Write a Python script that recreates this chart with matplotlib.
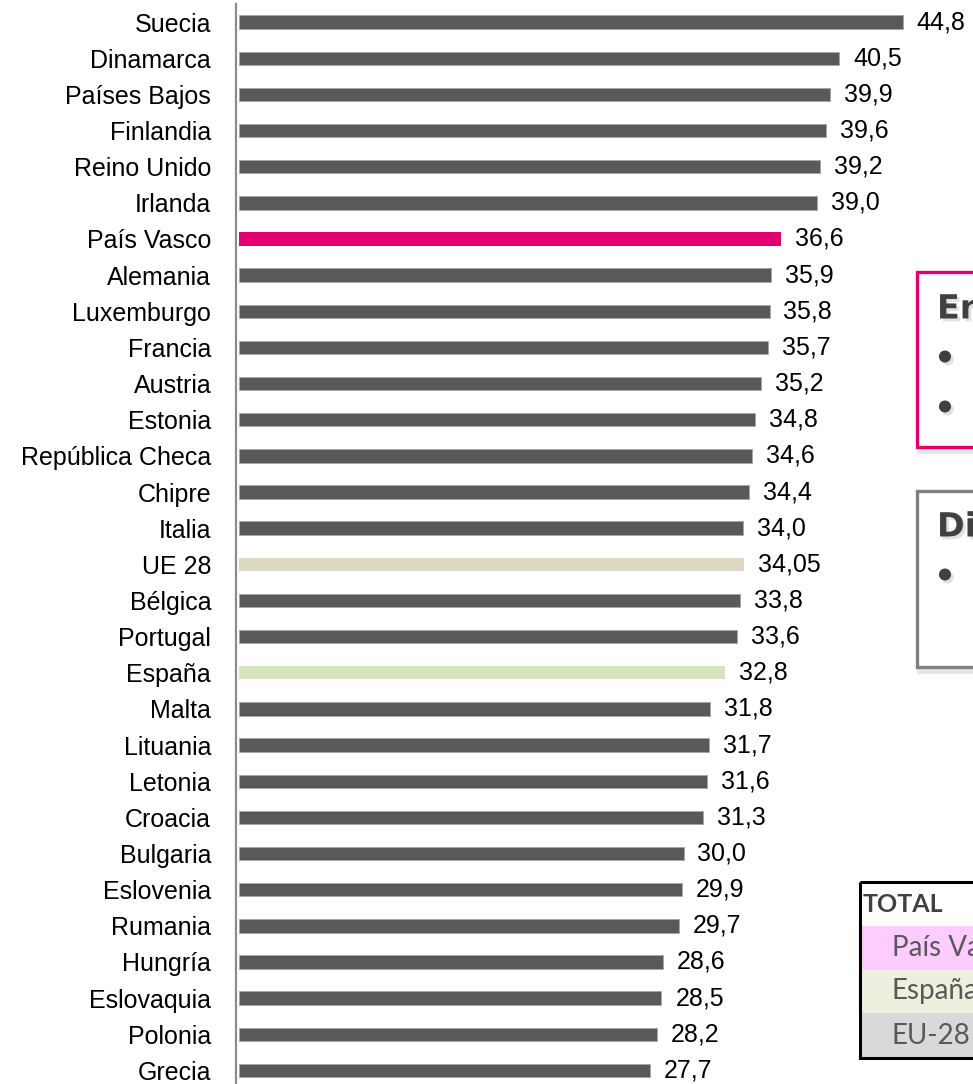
import numpy as np
import matplotlib
matplotlib.use('Agg')
import matplotlib.pyplot as plt
from matplotlib.patches import Rectangle
import matplotlib.patheffects as pe

plt.rcParams['font.family'] = ['Liberation Sans', 'DejaVu Sans']

# datos
paises = ['Suecia', 'Dinamarca', 'Países Bajos', 'Finlandia', 'Reino Unido', 'Irlanda',
          'País Vasco', 'Alemania', 'Luxemburgo', 'Francia', 'Austria', 'Estonia',
          'República Checa', 'Chipre', 'Italia', 'UE 28', 'Bélgica', 'Portugal',
          'España', 'Malta', 'Lituania', 'Letonia', 'Croacia', 'Bulgaria',
          'Eslovenia', 'Rumania', 'Hungría', 'Eslovaquia', 'Polonia', 'Grecia']
valores = [44.8, 40.5, 39.9, 39.6, 39.2, 39.0,
           36.6, 35.9, 35.8, 35.7, 35.2, 34.8,
           34.6, 34.4, 34.0, 34.05, 33.8, 33.6,
           32.8, 31.8, 31.7, 31.6, 31.3, 30.0,
           29.9, 29.7, 28.6, 28.5, 28.2, 27.7]
tabla_filas = ['TOTAL', 'País Vasco', 'España', 'EU-28']

# colores
gris = '#595959'
destacados = {'País Vasco': '#e0006e', 'UE 28': '#ddd9c3', 'España': '#d7e4bc'}
colores = [destacados.get(p, gris) for p in paises]
bordes = ['none' if p in destacados else '#a6a6a6' for p in paises]
tabla_fondos = ['white', '#ffccff', '#ebf1de', '#d9d9d9']

W, H = 973, 1084
fig = plt.figure(figsize=(W / 100, H / 100), dpi=100)

x0 = 239          # inicio de las barras (px)
escala = 14.82    # px por unidad
ax = fig.add_axes([x0 / W, -4.5 / H, (W - x0) / W, 1084.5 / H])

y = np.arange(len(paises))
barras = ax.barh(y, valores, height=0.37, color=colores, edgecolor=bordes, linewidth=0.7)
ax.set_ylim(len(paises) - 0.5, -0.5)
ax.set_xlim(0, (W - x0) / escala)
ax.set_yticks(y, paises)
ax.set_xticks([])
ax.tick_params(axis='y', length=0, pad=18, labelsize=18)
for s in ['top', 'right', 'bottom']:
    ax.spines[s].set_visible(False)
ax.spines['left'].set_color('#8c8c8c')
ax.spines['left'].set_linewidth(1.6)
ax.spines['left'].set_position(('outward', 2))

etiquetas = []
for v in valores:
    if round(v, 1) != v:
        etiquetas.append(('%.2f' % v).replace('.', ','))
    else:
        etiquetas.append(('%.1f' % v).replace('.', ','))
ax.bar_label(barras, labels=etiquetas, padding=10, fontsize=18)

# capa superior en pixeles para los cuadros de la derecha
ov = fig.add_axes([0, 0, 1, 1])
ov.set_xlim(0, W)
ov.set_ylim(H, 0)
ov.axis('off')
ov.patch.set_alpha(0)

sombra = [pe.withSimplePatchShadow(offset=(2, -2), shadow_rgbFace='#aaaaaa', alpha=0.35)]

def cuadro(top, bottom, color, titulo, bullets, ty):
    ov.add_patch(Rectangle((920, top + 3), 120, bottom - top, fill=False,
                           edgecolor='#d0d0d0', linewidth=5, alpha=0.5))
    ov.add_patch(Rectangle((917, top), 120, bottom - top, facecolor='white',
                           edgecolor=color, linewidth=2.4))
    ov.text(937, ty, titulo, fontsize=24, fontweight='bold', color='#404040',
            family=['DejaVu Sans'], va='center', ha='left', path_effects=sombra)
    for by in bullets:
        ov.text(945, by, '•', fontsize=30, color='#404040', family=['DejaVu Sans'],
                va='center', ha='center', path_effects=sombra)

cuadro(272, 447, '#e0006e', 'En', [360, 410], 309)
cuadro(491, 667, '#808080', 'Di', [578], 527)

# tabla
filas_y = [882, 926, 970, 1013, 1058]
for i, fila in enumerate(tabla_filas):
    ov.add_patch(Rectangle((860, filas_y[i]), 150, filas_y[i + 1] - filas_y[i],
                           facecolor=tabla_fondos[i], edgecolor='none'))
    yc = (filas_y[i] + filas_y[i + 1]) / 2
    if i == 0:
        ov.text(863, yc, fila, fontsize=18, fontweight='bold', color='#404040',
                family=['Lato', 'DejaVu Sans'], va='center')
    else:
        ov.text(892, yc, fila, fontsize=20, color='#595959',
                family=['Lato', 'DejaVu Sans'], va='center', clip_on=True)
ov.add_patch(Rectangle((860, 882), 150, 1058 - 882, fill=False,
                       edgecolor='black', linewidth=2.2))

fig.savefig('out.png', dpi=100)
